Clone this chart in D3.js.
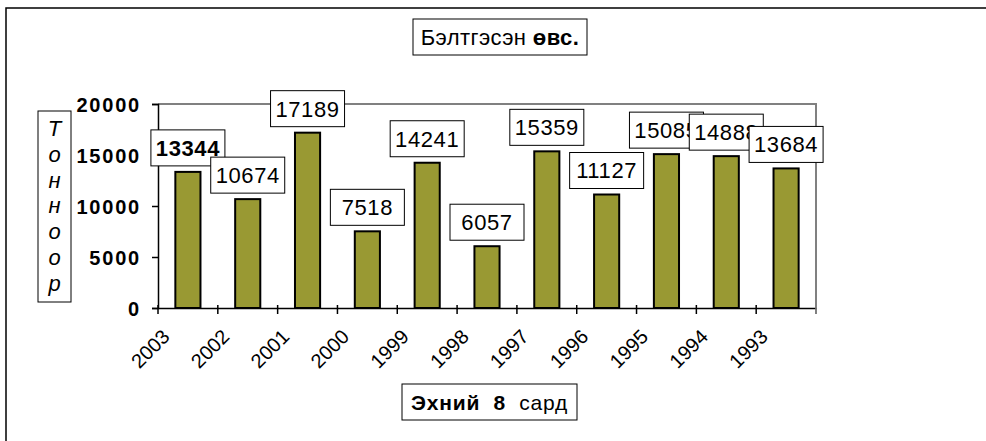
<!DOCTYPE html>
<html><head><meta charset="utf-8">
<script src="https://cdn.jsdelivr.net/npm/d3@7"></script>
<style>body{margin:0;background:#fff;} svg{display:block;font-family:"Liberation Sans",Arial,sans-serif;}</style>
</head><body>
<svg id="c" width="986" height="441"></svg>
<script>
const years = ["2003","2002","2001","2000","1999","1998","1997","1996","1995","1994","1993"];
const values = [13344,10674,17189,7518,14241,6057,15359,11127,15085,14888,13684];
const yTicks = [0,5000,10000,15000,20000];
const titleText = ["Бэлтгэсэн ", "өвс."];
const yTitle = ["Т","о","н","н","о","о","р"];
const xTitle = ["Эхний  8", "  сард"];

const svg = d3.select("#c");
const L=158, R=816, T=104, B=308;
const x = d3.scaleBand().domain(years).range([L,R]).paddingInner(0.58).paddingOuter(0.29);
const xb = d3.scaleBand().domain(years).range([L,R]);
const y = d3.scaleLinear().domain([0,20000]).range([B,T]);

// outer frame
svg.append("path").attr("d","M6,441 V8 H986").attr("fill","none").attr("stroke","#000").attr("stroke-width",1.5);

// plot area top/right border gray
svg.append("path").attr("d",`M${L},${T} H${R} V${B+6}`).attr("fill","none").attr("stroke","#808080").attr("stroke-width",2);

// bars
svg.selectAll("rect.bar").data(values).enter().append("rect")
  .attr("x",(d,i)=>x(years[i])).attr("width",x.bandwidth())
  .attr("y",d=>y(d)).attr("height",d=>B-y(d))
  .attr("fill","#999933").attr("stroke","#000").attr("stroke-width",2);

// y axis
const ya = svg.append("g").attr("transform",`translate(${L},0)`)
  .call(d3.axisLeft(y).tickValues(yTicks).tickSize(6).tickFormat(d3.format("d")));
ya.select(".domain").attr("stroke","#000").attr("stroke-width",1.5);
ya.selectAll(".tick line").attr("stroke","#000").attr("stroke-width",1.5);
ya.selectAll("text").attr("font-size",20).attr("font-weight","bold").attr("fill","#000")
  .attr("letter-spacing","1.8px").attr("x",-17).attr("dy","0.36em")
  .attr("font-family","Liberation Sans, Arial, sans-serif");

// x axis
const xa = svg.append("g").attr("transform",`translate(0,${B})`)
  .call(d3.axisBottom(xb).tickSize(0).tickFormat(""));
xa.select(".domain").attr("stroke","#000").attr("stroke-width",1.5);
xa.selectAll(".tick").remove();
const bounds = years.map(d=>xb(d)).concat([R]);
svg.selectAll("line.xt").data(bounds).enter().append("line")
  .attr("x1",d=>d).attr("x2",d=>d).attr("y1",B-3).attr("y2",B+6)
  .attr("stroke",(d,i)=>i===bounds.length-1?"#808080":"#000").attr("stroke-width",1.5);

// x labels rotated
svg.selectAll("text.xl").data(years).enter().append("text")
  .attr("transform",d=>`translate(${xb(d)+xb.bandwidth()/2-17},${B+30}) rotate(-45)`)
  .attr("text-anchor","end").attr("font-size",20).attr("fill","#000").text(d=>d);

// data labels
values.forEach((v,i)=>{
  const cx = x(years[i]) + x.bandwidth()/2;
  const g = svg.append("g");
  const bw=74, bh=36;
  const by = y(v) - 6 - bh;
  g.append("rect").attr("x",cx-bw/2).attr("y",by).attr("width",bw).attr("height",bh)
    .attr("fill","#fff").attr("stroke","#000").attr("stroke-width",1);
  g.append("text").attr("x",cx).attr("y",by+bh/2).attr("dy","0.36em")
    .attr("text-anchor","middle").attr("font-size",22).attr("letter-spacing","0.6px")
    .attr("font-weight",i===0?"bold":"normal").text(v);
});

// title
const tg = svg.append("g");
tg.append("rect").attr("x",413).attr("y",19).attr("width",174).attr("height",36)
  .attr("fill","#fff").attr("stroke","#000").attr("stroke-width",1);
const tt = tg.append("text").attr("x",500).attr("y",37).attr("dy","0.36em").attr("text-anchor","middle").attr("font-size",22).attr("letter-spacing","0.4px");
tt.append("tspan").text(titleText[0]);
tt.append("tspan").attr("font-weight","bold").text(titleText[1]);

// y title
svg.append("rect").attr("x",38).attr("y",111).attr("width",33).attr("height",191)
  .attr("fill","#fff").attr("stroke","#000").attr("stroke-width",1);
svg.selectAll("text.yt").data(yTitle).enter().append("text")
  .attr("x",54.5).attr("y",(d,i)=>128+i*25.8).attr("dy","0.36em")
  .attr("text-anchor","middle").attr("font-size",22).attr("font-style","italic").text(d=>d);

// x title
const xg = svg.append("g");
xg.append("rect").attr("x",402).attr("y",384).attr("width",175).attr("height",36)
  .attr("fill","#fff").attr("stroke","#000").attr("stroke-width",1);
const xt = xg.append("text").attr("x",489.5).attr("y",402).attr("dy","0.36em").attr("text-anchor","middle").attr("font-size",21).attr("letter-spacing","0.8px").style("white-space","pre");
xt.append("tspan").attr("font-weight","bold").text(xTitle[0]);
xt.append("tspan").text(xTitle[1]);
</script>
</body></html>
